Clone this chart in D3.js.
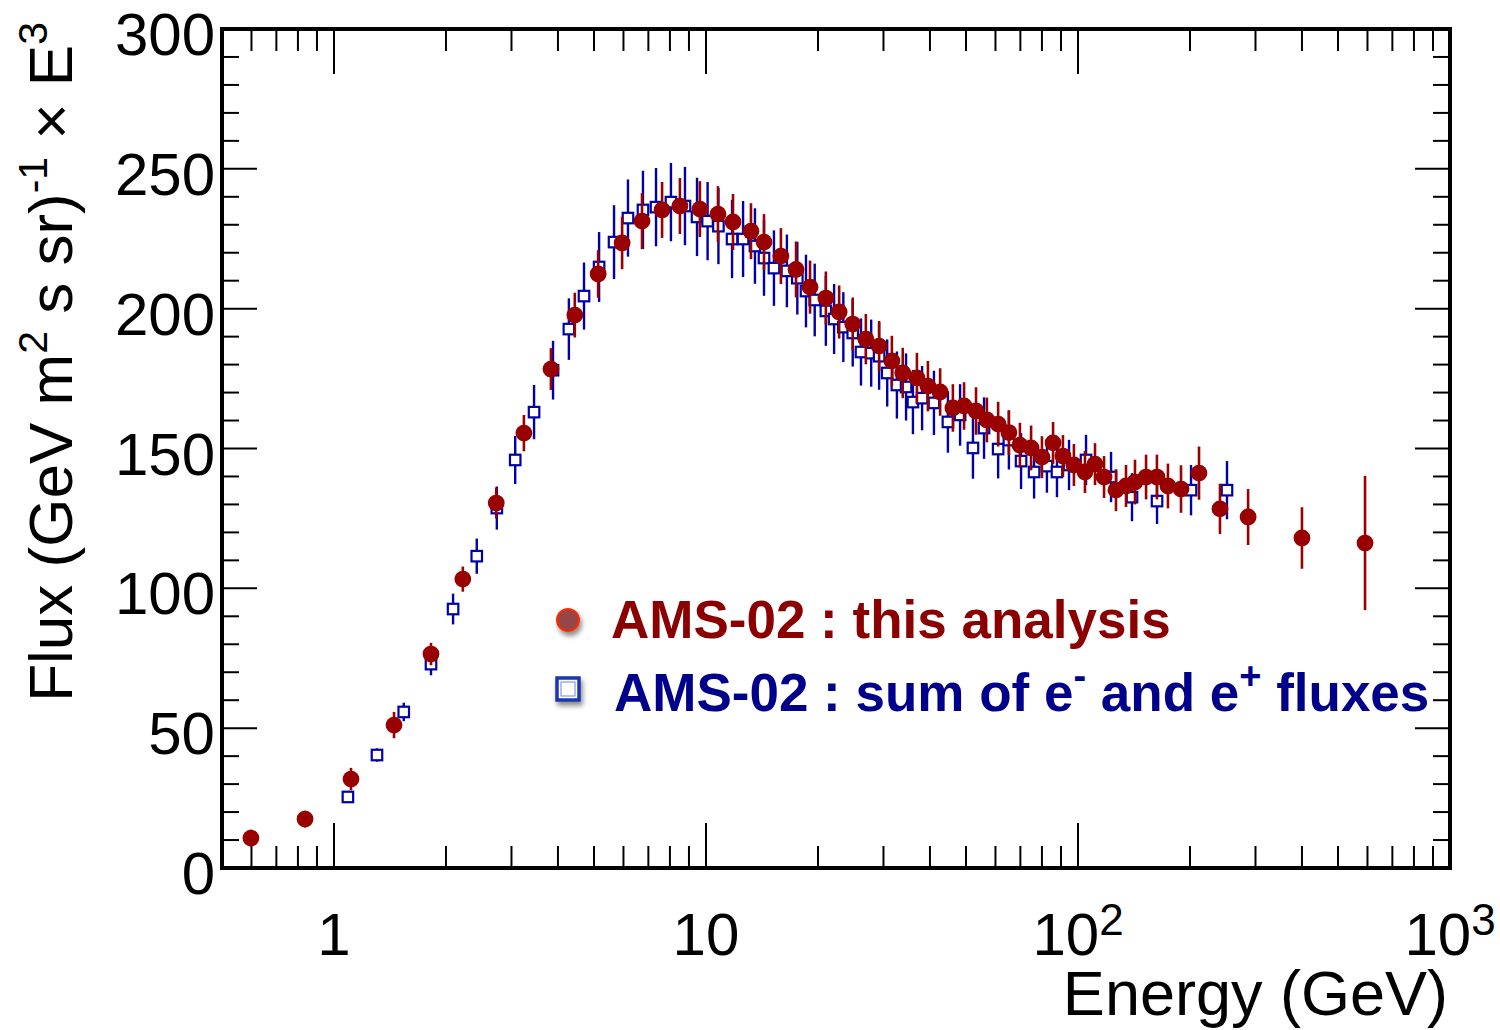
<!DOCTYPE html>
<html>
<head>
<meta charset="utf-8">
<script src="https://cdn.jsdelivr.net/npm/d3@7"></script>
<style>
  html, body { margin: 0; padding: 0; background: #fff; }
  svg { display: block; font-family: "Liberation Sans", Arial, Helvetica, sans-serif; }
</style>
</head>
<body>
<div id="chart"></div>
<script>
// AMS-02 : this analysis (E in GeV, flux x E^3, symmetric error)
const redE = [0.598, 0.836, 1.111, 1.45, 1.823, 2.22, 2.73, 3.24, 3.83, 4.44, 5.13, 5.95, 6.73, 7.62, 8.51,
  9.63, 10.77, 11.82, 13.21, 14.32, 15.9, 17.46, 19.04, 21.0, 22.8, 24.8, 26.9, 29.2, 31.6, 33.8, 36.9,
  39.5, 42.6, 46.1, 49.4, 53.2, 56.9, 61.0, 65.2, 69.8, 74.8, 80.0, 85.7, 91.1, 97.5, 104.4, 111.1,
  117.5, 126.5, 134.6, 142.3, 152.4, 163.0, 174.5, 189.2, 211.5, 240.8, 286.6, 400, 591];
const redF = [10.7, 17.5, 31.8, 51.1, 76.5, 103.3, 130.5, 155.5, 178.4, 197.7, 212.4, 223.5, 231.3, 235.3, 236.7,
  235.6, 233.8, 231.0, 227.7, 223.8, 218.8, 214.0, 207.7, 203.8, 198.8, 194.5, 189.1, 186.6, 181.3, 177.0, 175.2,
  172.3, 170.2, 164.5, 165.2, 163.4, 160.2, 158.7, 155.7, 151.2, 150.2, 146.9, 152.0, 147.3, 144.1, 141.6, 144.4,
  139.8, 135.1, 136.6, 138.0, 139.8, 139.8, 136.6, 135.5, 141.2, 128.4, 125.5, 118.0, 116.2];
const redErr = [3, 3, 4, 4.7, 4, 4.5, 5.5, 6.5, 7.5, 8, 8.5, 9.4, 10, 10, 10,
  10, 10, 10, 10, 10, 10, 10, 9.5, 9.5, 9.5, 9.5, 9, 9, 9, 9, 9,
  9, 8.5, 8.5, 8.5, 8.5, 8, 8, 8, 8, 8, 7.5, 7.5, 7.5, 7.5, 7.5, 7.5,
  7.5, 7.5, 7.5, 8, 8, 8, 8, 8.5, 9.5, 9, 10, 11, 24];

// AMS-02 : sum of e- and e+ fluxes
const blueE = [1.09, 1.305, 1.54, 1.823, 2.09, 2.42, 2.74, 3.07, 3.45, 3.88, 4.28, 4.70, 5.16, 5.66, 6.17,
  6.77, 7.34, 8.05, 8.78, 9.46, 10.1, 10.8, 11.75, 12.58, 13.54, 14.32, 15.23, 16.5, 17.6, 18.57, 19.6,
  21.0, 22.1, 23.4, 24.8, 26.1, 27.8, 29.2, 30.7, 32.6, 34.5, 36.0, 38.1, 41.0, 44.7, 48.2, 52.2,
  55.9, 61.0, 65.2, 70.3, 76.2, 82.5, 87.8, 94.6, 105.1, 122.7, 139.7, 163.1, 201.3, 251.5];
const blueF = [25.4, 40.4, 55.8, 72.9, 92.6, 111.5, 128.7, 145.9, 163.0, 178.0, 192.7, 204.5, 214.9, 223.8, 232.4,
  235.3, 236.3, 238.1, 236.7, 232.8, 231.3, 229.5, 224.9, 224.9, 222.4, 218.1, 214.5, 213.5, 210.9, 206.3, 203.1,
  199.2, 196.3, 193.4, 191.3, 184.5, 184.1, 183.0, 177.0, 172.7, 172.0, 166.6, 168.0, 166.3, 159.5, 162.0, 150.2,
  157.3, 149.8, 153.0, 145.5, 141.6, 143.7, 141.6, 144.1, 145.9, 139.8, 132.6, 131.2, 135.1, 135.1];
const blueErr = [1.5, 2.4, 3.3, 4, 5.5, 6.3, 7.7, 8.6, 9.7, 10.5, 11, 12, 12.5, 13.2, 13.8,
  14, 14, 14, 14, 14, 14, 13.6, 14, 13.6, 13.5, 13.5, 13.5, 13, 13, 13, 13,
  12.5, 12.5, 12.5, 12, 12, 12, 12, 12, 12, 12, 11.5, 11.5, 11.5, 11, 11, 11,
  11, 10.5, 10.5, 10, 9.5, 9.5, 9, 9, 9, 9, 8.6, 8.2, 9, 10.4];

const xLabelBase = ['1', '10', '10', '10'];
const xLabelExp = ['', '', '2', '3'];
const xLabelVal = [1, 10, 100, 1000];

const RED = '#990000';
const BLUE = '#0000a8';

const width = 1500, height = 1030;
const plot = { left: 222, right: 1450, top: 29, bottom: 868 };

const x = d3.scaleLog().domain([0.5, 1000]).range([plot.left, plot.right]);
const y = d3.scaleLinear().domain([0, 300]).range([plot.bottom, plot.top]);

const svg = d3.select('#chart').append('svg')
  .attr('width', width)
  .attr('height', height);

const defs = svg.append('defs');
const shadow = defs.append('filter').attr('id', 'shadow')
  .attr('x', '-50%').attr('y', '-50%').attr('width', '200%').attr('height', '200%');
shadow.append('feDropShadow')
  .attr('dx', 2).attr('dy', 4).attr('stdDeviation', 2.5)
  .attr('flood-color', '#000').attr('flood-opacity', 0.45);

// Ticks
const xTicks = x.ticks().filter(t => t > 0.5 && t < 1000);
const isMajorX = t => Math.abs(Math.log10(t) - Math.round(Math.log10(t))) < 1e-9;
const yTicks = y.ticks(30).filter(t => t > 0 && t < 300);

const tickG = svg.append('g').attr('stroke', '#000').attr('stroke-width', 2);
xTicks.forEach(t => {
  const len = isMajorX(t) ? 45 : 22;
  tickG.append('line').attr('x1', x(t)).attr('x2', x(t))
    .attr('y1', plot.bottom).attr('y2', plot.bottom - len);
  tickG.append('line').attr('x1', x(t)).attr('x2', x(t))
    .attr('y1', plot.top).attr('y2', plot.top + len);
});
yTicks.forEach(t => {
  const len = t % 50 === 0 ? 35 : 17;
  tickG.append('line').attr('x1', plot.left).attr('x2', plot.left + len)
    .attr('y1', y(t)).attr('y2', y(t));
  tickG.append('line').attr('x1', plot.right).attr('x2', plot.right - len)
    .attr('y1', y(t)).attr('y2', y(t));
});

// Frame
svg.append('rect')
  .attr('x', plot.left).attr('y', plot.top)
  .attr('width', plot.right - plot.left).attr('height', plot.bottom - plot.top)
  .attr('fill', 'none').attr('stroke', '#000').attr('stroke-width', 4);

// Y tick labels
y.ticks(6).forEach(t => {
  svg.append('text')
    .attr('x', 215).attr('y', y(t) + 26)
    .attr('text-anchor', 'end')
    .attr('font-size', 60)
    .text(t);
});

// X tick labels
xLabelVal.forEach((v, i) => {
  const txt = svg.append('text')
    .attr('x', x(v)).attr('y', 955)
    .attr('text-anchor', 'middle')
    .attr('font-size', 60);
  txt.append('tspan').text(xLabelBase[i]);
  if (xLabelExp[i]) {
    txt.append('tspan').attr('font-size', 44).attr('dy', -20).text(xLabelExp[i]);
  }
});

// Axis titles
svg.append('text')
  .attr('x', 1448).attr('y', 1015)
  .attr('text-anchor', 'end')
  .attr('font-size', 63)
  .text('Energy (GeV)');

const yt = svg.append('text')
  .attr('transform', 'translate(72,22) rotate(-90)')
  .attr('text-anchor', 'end')
  .attr('font-size', 62);
yt.append('tspan').text('Flux (GeV m');
yt.append('tspan').attr('font-size', 41).attr('dy', -25).text('2');
yt.append('tspan').attr('dy', 25).text(' s sr)');
yt.append('tspan').attr('font-size', 41).attr('dy', -25).text('-1');
yt.append('tspan').attr('dy', 25).text(' \u00d7 E');
yt.append('tspan').attr('font-size', 41).attr('dy', -25).text('3');

// Data
const blueData = blueE.map((e, i) => ({ e, f: blueF[i], err: blueErr[i] }));
const redData = redE.map((e, i) => ({ e, f: redF[i], err: redErr[i] }));

const dataG = svg.append('g');
const BOX = 10.5;

dataG.append('g').selectAll('line').data(blueData).enter().append('line')
  .attr('x1', d => x(d.e)).attr('x2', d => x(d.e))
  .attr('y1', d => y(d.f + d.err)).attr('y2', d => y(d.f - d.err))
  .attr('stroke', BLUE).attr('stroke-width', 2.4);

dataG.append('g').selectAll('rect').data(blueData).enter().append('rect')
  .attr('x', d => x(d.e) - BOX / 2).attr('y', d => y(d.f) - BOX / 2)
  .attr('width', BOX).attr('height', BOX)
  .attr('fill', '#fff').attr('stroke', BLUE).attr('stroke-width', 2.2);

dataG.append('g').selectAll('line').data(redData).enter().append('line')
  .attr('x1', d => x(d.e)).attr('x2', d => x(d.e))
  .attr('y1', d => y(d.f + d.err)).attr('y2', d => y(d.f - d.err))
  .attr('stroke', RED).attr('stroke-width', 2.6);

dataG.append('g').selectAll('circle').data(redData).enter().append('circle')
  .attr('cx', d => x(d.e)).attr('cy', d => y(d.f))
  .attr('r', 8.4)
  .attr('fill', RED);

// Legend
const leg = svg.append('g');
leg.append('circle')
  .attr('cx', 568).attr('cy', 620).attr('r', 11)
  .attr('fill', '#944646').attr('stroke', '#ff2a00').attr('stroke-width', 2)
  .attr('filter', 'url(#shadow)');
leg.append('rect')
  .attr('x', 557).attr('y', 678).attr('width', 22).attr('height', 22)
  .attr('fill', '#fff').attr('stroke', '#1a36b0').attr('stroke-width', 3.5)
  .attr('filter', 'url(#shadow)');
leg.append('rect')
  .attr('x', 561).attr('y', 682).attr('width', 14).attr('height', 14)
  .attr('fill', '#fff').attr('stroke', '#6a86e0').attr('stroke-width', 1);

leg.append('text')
  .attr('x', 611).attr('y', 638)
  .attr('font-size', 53).attr('font-weight', 'bold')
  .attr('fill', '#8b0000')
  .text('AMS-02 : this analysis');

const lt = leg.append('text')
  .attr('x', 614).attr('y', 711)
  .attr('font-size', 53).attr('font-weight', 'bold')
  .attr('fill', '#00008b');
lt.append('tspan').text('AMS-02 : sum of e');
lt.append('tspan').attr('font-size', 38).attr('dy', -22).text('-');
lt.append('tspan').attr('dy', 22).text(' and e');
lt.append('tspan').attr('font-size', 38).attr('dy', -22).text('+');
lt.append('tspan').attr('dy', 22).text(' fluxes');
</script>
</body>
</html>
